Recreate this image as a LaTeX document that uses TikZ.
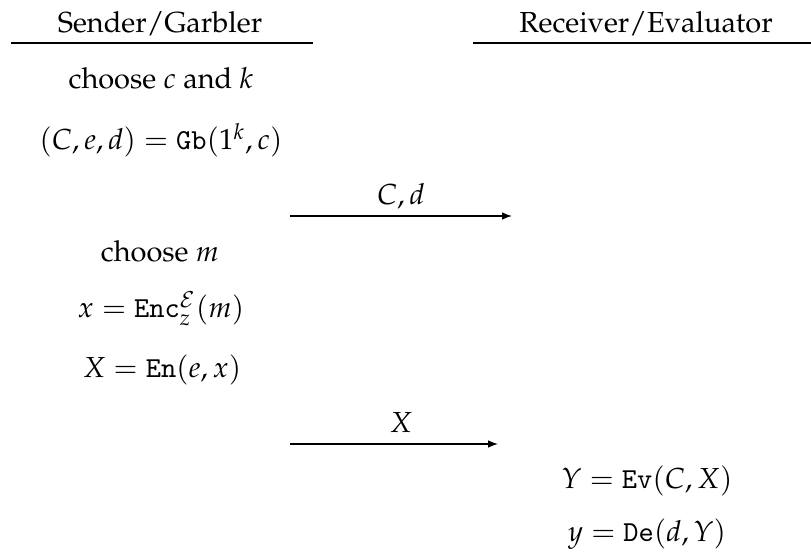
\documentclass[tikz,border=0pt]{standalone}
\usepackage[OT1]{fontenc}
\usepackage{mathpazo}
\usetikzlibrary{arrows.meta}
\tikzset{
  lbl/.style={anchor=base, inner sep=0pt, outer sep=0pt},
  rule/.style={line width=0.45pt},
  msg/.style={line width=0.45pt, -{Latex[length=3.4pt,width=2.6pt]}}
}
\begin{document}
\begin{tikzpicture}[x=0.345pt,y=-0.345pt]
\useasboundingbox (0,0) rectangle (811,556);
% headers
\node[lbl] (hs) at (160,33) {Sender/Garbler};
\node[lbl] (hr) at (646,33) {Receiver/Evaluator};
\coordinate (ls1) at (11,43);
\coordinate (ls2) at (313,43);
\coordinate (lr1) at (473,43);
\coordinate (lr2) at (811,43);
\draw[rule] (ls1) -- (ls2);
\draw[rule] (lr1) -- (lr2);
% sender side
\node[lbl] (t1) at (161,89) {choose $c$ and $k$};
\node[lbl] (t2) at (161,150) {$(C,e,d)=\mathtt{Gb}(1^k,c)$};
% message 1
\coordinate (a1s) at (290,216);
\coordinate (a1e) at (512,216);
\draw[msg] (a1s) -- (a1e);
\node[lbl] (m1) at (401,205) {$C,d$};
\node[lbl] (t3) at (160,262) {choose $m$};
\node[lbl] (t4) at (161,318) {$x=\mathtt{Enc}^{\mathcal{E}}_z(m)$};
\node[lbl] (t5) at (162,378) {$X=\mathtt{En}(e,x)$};
% message 2
\coordinate (a2s) at (290,444);
\coordinate (a2e) at (498,444);
\draw[msg] (a2s) -- (a2e);
\node[lbl] (m2) at (401,433) {$X$};
% receiver side
\node[lbl] (t6) at (647,489) {$Y=\mathtt{Ev}(C,X)$};
\node[lbl] (t7) at (647,542) {$y=\mathtt{De}(d,Y)$};
\end{tikzpicture}
\end{document}
